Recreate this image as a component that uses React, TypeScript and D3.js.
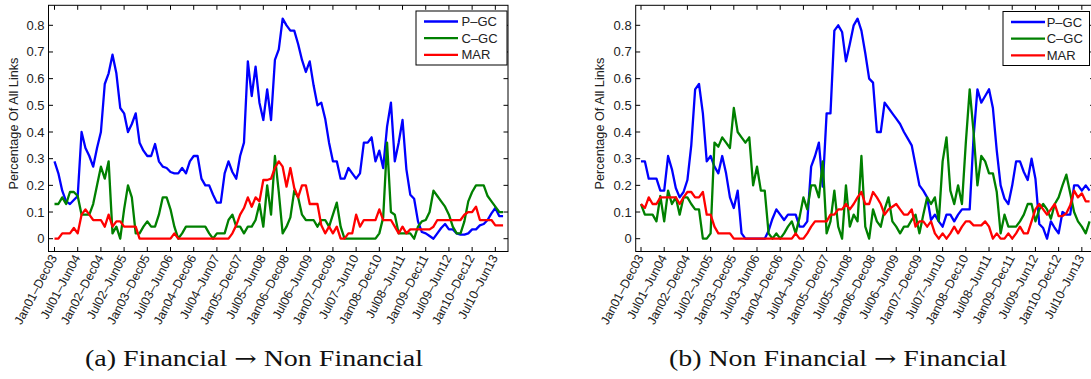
import React from "react";
import * as d3 from "d3";

// Rolling three-year windows, one point per month (Jan01–Dec03 onward).
const WINDOW_LABELS = [
  "Jan01–Dec03", "Jul01–Jun04", "Jan02–Dec04", "Jul02–Jun05", "Jan03–Dec05",
  "Jul03–Jun06", "Jan04–Dec06", "Jul04–Jun07", "Jan05–Dec07", "Jul05–Jun08",
  "Jan06–Dec08", "Jul06–Jun09", "Jan07–Dec09", "Jul07–Jun10", "Jan08–Dec10",
  "Jul08–Jun11", "Jan09–Dec11", "Jul09–Jun12", "Jan10–Dec12", "Jul10–Jun13",
];
const LABEL_STEP = 6; // months between labelled windows

const Y_TICKS = [0, 0.1, 0.2, 0.3, 0.4, 0.5, 0.6, 0.7, 0.8];
const Y_TICK_LABELS = ["0", "0.1", "0.2", "0.3", "0.4", "0.5", "0.6", "0.7", "0.8"];

const SERIES_NAMES = ["P–GC", "C–GC", "MAR"];
const SERIES_COLORS = ["#0000ff", "#008000", "#ff0000"];

// (a) Financial -> Non Financial
const finToNonPGC = [
  0.29, 0.245, 0.18, 0.14, 0.13, 0.145, 0.16,
  0.40, 0.34, 0.31, 0.27, 0.34, 0.40, 0.58, 0.62, 0.69, 0.62, 0.49, 0.47, 0.40, 0.43, 0.47, 0.36, 0.33, 0.31, 0.31, 0.355, 0.29, 0.27, 0.265, 0.25, 0.245,
  0.245, 0.265, 0.245, 0.29, 0.31, 0.31, 0.225, 0.20, 0.20, 0.165, 0.135, 0.135, 0.245, 0.29, 0.25, 0.225, 0.31, 0.36, 0.665, 0.535, 0.645, 0.51, 0.445, 0.56,
  0.445, 0.67, 0.71, 0.825, 0.80, 0.78, 0.78, 0.73, 0.67, 0.625, 0.665, 0.575, 0.50, 0.51, 0.45, 0.36, 0.29, 0.29, 0.225, 0.225,
  0.265, 0.245, 0.225, 0.245, 0.36, 0.36, 0.38, 0.29, 0.33, 0.265, 0.42, 0.51, 0.29, 0.36, 0.445, 0.26, 0.165, 0.15, 0.065, 0.025, 0.02,
  0.01, 0.0, 0.02, 0.04, 0.055, 0.035, 0.035, 0.02, 0.015, 0.015, 0.02, 0.035, 0.035, 0.05, 0.055, 0.07, 0.095, 0.115, 0.085, 0.085,
];
const finToNonCGC = [
  0.13, 0.13, 0.155, 0.13, 0.175, 0.175, 0.16,
  0.09, 0.09, 0.09, 0.13, 0.2, 0.27, 0.225, 0.29, 0.02, 0.045, 0.0, 0.11, 0.2, 0.155, 0.02, 0.02, 0.045, 0.065, 0.045, 0.045, 0.09, 0.155, 0.155, 0.11, 0.045,
  0.0, 0.02, 0.045, 0.045, 0.045, 0.045, 0.045, 0.045, 0.02, 0.0, 0.02, 0.02, 0.02, 0.07, 0.09, 0.045, 0.045, 0.02, 0.045, 0.045, 0.07, 0.13, 0.045, 0.2,
  0.09, 0.31, 0.175, 0.02, 0.045, 0.08, 0.18, 0.155, 0.09, 0.07, 0.07, 0.07, 0.045, 0.07, 0.07, 0.045, 0.09, 0.135, 0.045, 0.0,
  0.0, 0.0, 0.0, 0.0, 0.0, 0.0, 0.0, 0.0, 0.02, 0.08, 0.36, 0.1, 0.09, 0.02, 0.02, 0.02, 0.02, 0.0, 0.045, 0.065, 0.07,
  0.10, 0.18, 0.16, 0.14, 0.12, 0.09, 0.045, 0.02, 0.02, 0.065, 0.14, 0.175, 0.2, 0.2, 0.2, 0.16, 0.14, 0.12, 0.10, 0.10,
];
const finToNonMAR = [
  0.0, 0.0, 0.02, 0.02, 0.02, 0.04, 0.02,
  0.09, 0.11, 0.09, 0.07, 0.07, 0.07, 0.045, 0.09, 0.045, 0.065, 0.065, 0.045, 0.045, 0.045, 0.045, 0.0, 0.0, 0.0, 0.0, 0.0, 0.0, 0.0, 0.0, 0.0, 0.02,
  0.0, 0.0, 0.0, 0.0, 0.0, 0.0, 0.0, 0.0, 0.0, 0.0, 0.0, 0.0, 0.0, 0.0, 0.02, 0.05, 0.09, 0.115, 0.155, 0.12, 0.155, 0.14, 0.22, 0.22,
  0.225, 0.265, 0.29, 0.27, 0.195, 0.265, 0.19, 0.155, 0.20, 0.20, 0.13, 0.13, 0.13, 0.05, 0.02, 0.045, 0.02, 0.045, 0.0, 0.0,
  0.02, 0.02, 0.09, 0.045, 0.07, 0.07, 0.07, 0.07, 0.11, 0.07, 0.07, 0.07, 0.045, 0.02, 0.045, 0.02, 0.035, 0.035, 0.035, 0.035, 0.035,
  0.035, 0.045, 0.07, 0.07, 0.07, 0.07, 0.07, 0.07, 0.07, 0.09, 0.10, 0.10, 0.12, 0.07, 0.07, 0.07, 0.07, 0.05, 0.05, 0.05,
];

// (b) Non Financial -> Financial
const nonToFinPGC = [
  0.29, 0.29, 0.225, 0.225, 0.225,
  0.18, 0.18, 0.31, 0.26, 0.19, 0.155, 0.175, 0.22, 0.35, 0.56, 0.58, 0.47, 0.29, 0.31, 0.27, 0.245, 0.31, 0.245, 0.155, 0.115, 0.18, 0.02, 0.0, 0.0, 0.0, 0.0, 0.0, 0.0,
  0.03, 0.075, 0.11, 0.09, 0.07, 0.09, 0.09, 0.09, 0.045, 0.045, 0.065, 0.27, 0.31, 0.36, 0.195, 0.47, 0.47, 0.78, 0.80, 0.775, 0.665, 0.73, 0.80,
  0.825, 0.78, 0.695, 0.60, 0.585, 0.40, 0.40, 0.51, 0.49, 0.47, 0.45, 0.43, 0.40, 0.375, 0.35, 0.275, 0.20, 0.18, 0.155, 0.07, 0.09,
  0.065, 0.045, 0.09, 0.09, 0.065, 0.09, 0.11, 0.11, 0.11, 0.38, 0.56, 0.51, 0.535, 0.56, 0.49, 0.33, 0.2, 0.15, 0.13, 0.2, 0.29, 0.29, 0.25, 0.22, 0.30, 0.225, 0.055, 0.04,
  0.0, 0.065, 0.04, 0.02, 0.10, 0.09, 0.09, 0.2, 0.2, 0.18, 0.2, 0.18,
];
const nonToFinCGC = [
  0.13, 0.09, 0.09, 0.09, 0.065,
  0.16, 0.065, 0.18, 0.13, 0.155, 0.09, 0.155, 0.155, 0.13, 0.11, 0.11, 0.0, 0.0, 0.02, 0.36, 0.345, 0.38, 0.36, 0.34, 0.49, 0.40, 0.38, 0.36, 0.38, 0.2, 0.27, 0.18, 0.18,
  0.02, 0.0, 0.02, 0.0, 0.02, 0.045, 0.065, 0.02, 0.08, 0.155, 0.11, 0.2, 0.2, 0.155, 0.29, 0.02, 0.065, 0.18, 0.045, 0.0, 0.2, 0.045, 0.09,
  0.065, 0.31, 0.045, 0.0, 0.11, 0.065, 0.045, 0.11, 0.155, 0.065, 0.045, 0.02, 0.045, 0.045, 0.07, 0.09, 0.02, 0.09, 0.155, 0.13, 0.155,
  0.065, 0.29, 0.38, 0.18, 0.13, 0.2, 0.13, 0.36, 0.56, 0.40, 0.2, 0.31, 0.29, 0.245, 0.245, 0.175, 0.02, 0.09, 0.045, 0.045, 0.045, 0.065, 0.09, 0.13, 0.13, 0.065, 0.11, 0.13,
  0.11, 0.075, 0.13, 0.155, 0.2, 0.24, 0.17, 0.1, 0.065, 0.045, 0.02, 0.065,
];
const nonToFinMAR = [
  0.13, 0.115, 0.155, 0.13, 0.13,
  0.155, 0.155, 0.155, 0.155, 0.155, 0.13, 0.155, 0.175, 0.175, 0.155, 0.155, 0.175, 0.09, 0.09, 0.045, 0.02, 0.02, 0.02, 0.02, 0.0, 0.0, 0.0, 0.0, 0.0, 0.0, 0.0, 0.0, 0.0,
  0.0, 0.0, 0.0, 0.0, 0.0, 0.0, 0.0, 0.02, 0.0, 0.0, 0.02, 0.045, 0.065, 0.065, 0.065, 0.065, 0.09, 0.09, 0.11, 0.11, 0.13, 0.11, 0.13,
  0.155, 0.175, 0.13, 0.13, 0.175, 0.155, 0.13, 0.09, 0.11, 0.12, 0.13, 0.11, 0.09, 0.09, 0.11, 0.045, 0.065, 0.065, 0.045, 0.065, 0.02,
  0.0, 0.02, 0.0, 0.02, 0.045, 0.02, 0.045, 0.065, 0.065, 0.05, 0.05, 0.05, 0.065, 0.045, 0.0, 0.02, 0.0, 0.0, 0.02, 0.0, 0.02, 0.045, 0.02, 0.02, 0.065, 0.11, 0.13, 0.11,
  0.09, 0.11, 0.13, 0.085, 0.085, 0.095, 0.125, 0.18, 0.155, 0.17, 0.14, 0.14,
];

const WIDTH = 1091;
const HEIGHT = 379;
const SANS = "'Liberation Sans', Arial, Helvetica, sans-serif";
const SERIF = "'Liberation Serif', 'Times New Roman', serif";

const BOX_TOP = 5.3;
const BOX_BOTTOM = 251.5;
const TICK_LEN = 4.5;
const MONTH_PX = 3.867;

type PanelProps = {
  boxLeft: number;
  boxRight: number;
  firstX: number;
  series: number[][];
  legend: { x: number; y: number; w: number; h: number; textDx: number };
  yLabelX: number;
  captionFrom: string;
  captionTo: string;
  captionX: number;
};

function Panel({ boxLeft, boxRight, firstX, series, legend, yLabelX, captionFrom, captionTo, captionX }: PanelProps) {
  const lastIdx = (WINDOW_LABELS.length - 1) * LABEL_STEP;
  const x = d3.scaleLinear().domain([0, lastIdx]).range([firstX, firstX + lastIdx * MONTH_PX]);
  const y = d3.scaleLinear().domain([0, 0.8]).range([238.7, 25.3]);
  const line = d3
    .line<number>()
    .x((_, i) => x(i))
    .y((v) => y(v));

  const xTicks = WINDOW_LABELS.map((_, k) => k * LABEL_STEP);
  const midY = 123.5;

  return (
    <g>
      {/* data lines */}
      {series.map((vals, s) => (
        <path
          key={s}
          d={line(vals) || ""}
          fill="none"
          stroke={SERIES_COLORS[s]}
          strokeWidth={2.3}
          strokeLinejoin="round"
        />
      ))}

      {/* axes box */}
      <rect
        x={boxLeft}
        y={BOX_TOP}
        width={boxRight - boxLeft}
        height={BOX_BOTTOM - BOX_TOP}
        fill="none"
        stroke="#000"
        strokeWidth={1}
      />

      {/* y ticks (inward, both sides) and labels */}
      {Y_TICKS.map((t, k) => (
        <g key={k}>
          <line x1={boxLeft} x2={boxLeft + TICK_LEN} y1={y(t)} y2={y(t)} stroke="#000" strokeWidth={1} />
          <line x1={boxRight - TICK_LEN} x2={boxRight} y1={y(t)} y2={y(t)} stroke="#000" strokeWidth={1} />
          <text
            x={boxLeft - 4}
            y={y(t)}
            textAnchor="end"
            dominantBaseline="central"
            fontFamily={SANS}
            fontSize={13}
            fill="#222"
          >
            {Y_TICK_LABELS[k]}
          </text>
        </g>
      ))}

      {/* x ticks (inward, bottom and top) and rotated labels */}
      {xTicks.map((t, k) => (
        <g key={k}>
          <line x1={x(t)} x2={x(t)} y1={BOX_BOTTOM} y2={BOX_BOTTOM - TICK_LEN} stroke="#000" strokeWidth={1} />
          <line x1={x(t)} x2={x(t)} y1={BOX_TOP} y2={BOX_TOP + TICK_LEN} stroke="#000" strokeWidth={1} />
          <text
            transform={`translate(${x(t) + 3},${BOX_BOTTOM + 6}) rotate(-62)`}
            textAnchor="end"
            fontFamily={SANS}
            fontSize={12.5}
            fill="#222"
          >
            {WINDOW_LABELS[k]}
          </text>
        </g>
      ))}

      {/* y axis title */}
      <text
        transform={`translate(${yLabelX},${midY}) rotate(-90)`}
        textAnchor="middle"
        dominantBaseline="central"
        fontFamily={SANS}
        fontSize={12.7}
        fill="#222"
      >
        Percentage Of All Links
      </text>

      {/* legend */}
      <rect x={legend.x} y={legend.y} width={legend.w} height={legend.h} fill="#fff" stroke="#000" strokeWidth={1} />
      {SERIES_NAMES.map((name, s) => {
        const ry = legend.y + 10.5 + s * 16.7;
        return (
          <g key={name}>
            <line
              x1={legend.x + 8}
              x2={legend.x + 42}
              y1={ry}
              y2={ry}
              stroke={SERIES_COLORS[s]}
              strokeWidth={2.3}
            />
            <text
              x={legend.x + legend.textDx}
              y={ry}
              dominantBaseline="central"
              fontFamily={SANS}
              fontSize={13}
              fill="#222"
            >
              {name}
            </text>
          </g>
        );
      })}

      {/* sub-caption */}
      <text
        x={captionX}
        y={366}
        textAnchor="middle"
        fontFamily={SERIF}
        fontSize={23}
        textLength={338}
        lengthAdjust="spacingAndGlyphs"
        fill="#111"
      >
        {captionFrom}
        <tspan fontFamily="'DejaVu Serif', serif" fontSize={22}>→</tspan>
        {captionTo}
      </text>
    </g>
  );
}

export default function App() {
  return (
    <div style={{ position: "absolute", left: 0, top: 0, width: WIDTH, height: HEIGHT, background: "#fff" }}>
      <svg width={WIDTH} height={HEIGHT} viewBox={`0 0 ${WIDTH} ${HEIGHT}`} style={{ display: "block" }}>
        <rect width={WIDTH} height={HEIGHT} fill="#fff" />
        <Panel
          boxLeft={48.5}
          boxRight={508}
          firstX={54.5}
          series={[finToNonPGC, finToNonCGC, finToNonMAR]}
          legend={{ x: 416, y: 11, w: 91, h: 54, textDx: 45.5 }}
          yLabelX={13.5}
          captionFrom="(a) Financial "
          captionTo=" Non Financial"
          captionX={254}
        />
        <Panel
          boxLeft={635.7}
          boxRight={1094.6}
          firstX={641}
          series={[nonToFinPGC, nonToFinCGC, nonToFinMAR]}
          legend={{ x: 1003, y: 11.5, w: 86.5, h: 54, textDx: 43.7 }}
          yLabelX={600}
          captionFrom="(b) Non Financial "
          captionTo=" Financial"
          captionX={838}
        />
      </svg>
    </div>
  );
}
